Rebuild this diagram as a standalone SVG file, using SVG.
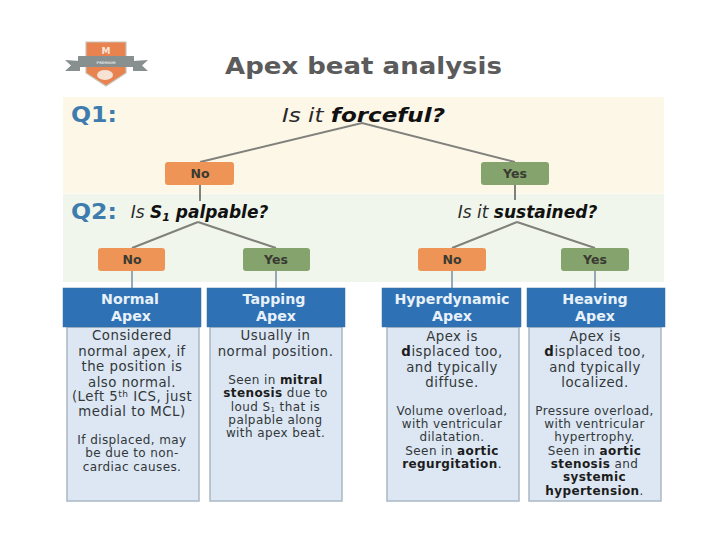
<svg xmlns="http://www.w3.org/2000/svg" width="720" height="540" viewBox="0 0 720 540">
<style>
text{font-family:"DejaVu Sans","Liberation Sans",sans-serif;text-anchor:middle}
.ans{font-size:12.5px;font-weight:700;fill:#3a3a32}
.no{fill:#ee9457}.yes{fill:#85a36d}
.hd{fill:#2e72b5;stroke:#3c6f9f;stroke-width:.5}
.ht{font-size:14.200px;font-weight:700;fill:#e8f1f8}
.bd{fill:#dce7f3;stroke:#a9b8c4;stroke-width:1.5}
.bt{font-size:13.300px;letter-spacing:.5px;fill:#33373a}
.bs{font-size:12px;letter-spacing:.4px;fill:#33373a}
.b{font-weight:700;fill:#1c1c1c}
.q{font-size:22px;font-weight:700;fill:#3f7cae;text-anchor:start}
.ask{font-size:20px;font-style:italic;fill:#2a2a2a}
.ask2{font-size:17px;font-style:italic;fill:#2a2a2a}
.strong{font-weight:700;fill:#111}
.ln{fill:none;stroke:#80807c;stroke-width:2}
.ln2{fill:none;stroke:#7f95a8;stroke-width:1.6}
</style>
<rect width="720" height="540" fill="#fff"/>
<rect x="63" y="97" width="601" height="96.500" fill="#fdf7e8"/>
<rect x="63" y="194" width="601" height="88" fill="#f0f6ec"/>
<g id="logo">
<path d="M65 60L80 61V71H65L71 65.500Z M148 60L133 61V71H148L142 65.500Z" fill="#87908f"/>
<path d="M86 42H126V73L106 86L86 73Z" fill="#e8824f" stroke="#c9c2ba" stroke-width="1.200"/>
<rect x="78" y="56" width="56" height="11" fill="#87908f"/>
<text x="106" y="54" style="font-size:9px;font-weight:700;fill:#f7e6da">M</text>
<text x="106" y="64" style="font-size:3.500px;font-weight:700;fill:#dfe3e3">PREMIUM</text>
<ellipse cx="105" cy="75" rx="8" ry="5" fill="#f6e3d6"/>
</g>
<text id="title" x="363.500" y="74" textLength="277" lengthAdjust="spacingAndGlyphs" style="font-size:23px;font-weight:700;fill:#5b5b5b">Apex beat analysis</text>
<g id="q1-label"><text class="q" x="71" y="122" textLength="46" lengthAdjust="spacingAndGlyphs">Q1:</text></g>
<g id="q2-label"><text class="q" x="71" y="219" textLength="46" lengthAdjust="spacingAndGlyphs">Q2:</text></g>
<g id="connectors">
<path class="ln" d="M200 162L362 123L515 162M200 185V201M198 222L132 248M198 222L276 248M515 185V200M517 222L452 248M517 222L595 248"/>
<path class="ln2" d="M132 270V288M276 270V288M452 271V288M595 271V288"/>
</g>
<g id="q-forceful"><text class="ask" x="363.500" y="122" textLength="163" lengthAdjust="spacingAndGlyphs">Is it <tspan class="strong">forceful?</tspan></text></g>
<g id="q-s1"><text class="ask2" x="199.500" y="218">Is <tspan class="strong">S<tspan dy="3" font-size="11">1</tspan><tspan dy="-3"> palpable?</tspan></tspan></text></g>
<g id="q-sustained"><text class="ask2" x="527.500" y="218">Is it <tspan class="strong">sustained?</tspan></text></g>
<g id="n-no1"><rect class="no" x="165" y="162" width="69" height="23" rx="3"/><text class="ans" x="200" y="178">No</text></g>
<g id="n-yes1"><rect class="yes" x="481" y="162" width="68" height="23" rx="3"/><text class="ans" x="515" y="178">Yes</text></g>
<g id="n-no2"><rect class="no" x="98" y="248" width="67" height="23" rx="3"/><text class="ans" x="132" y="264">No</text></g>
<g id="n-yes2"><rect class="yes" x="243" y="248" width="67" height="23" rx="3"/><text class="ans" x="276" y="264">Yes</text></g>
<g id="n-no3"><rect class="no" x="418" y="248" width="68" height="23" rx="3"/><text class="ans" x="452" y="264">No</text></g>
<g id="n-yes3"><rect class="yes" x="561" y="248" width="68" height="23" rx="3"/><text class="ans" x="595" y="264">Yes</text></g>
<g id="normal">
<rect class="bd" x="67" y="327" width="132" height="174"/>
<rect class="hd" x="63" y="288" width="138" height="39"/>
<text class="ht" x="130" y="304">Normal</text><text class="ht" x="131" y="321">Apex</text>
<text class="bt" x="132" y="340">Considered</text>
<text class="bt" x="132" y="356">normal apex, if</text>
<text class="bt" x="132" y="371">the position is</text>
<text class="bt" x="132" y="387">also normal.</text>
<text class="bt" x="132" y="401">(Left 5<tspan dy="-4" font-size="9">th</tspan><tspan dy="4"> ICS, just</tspan></text>
<text class="bt" x="132" y="416">medial to MCL)</text>
<text class="bs" x="132" y="444">If displaced, may</text>
<text class="bs" x="132" y="457">be due to non-</text>
<text class="bs" x="132" y="471">cardiac causes.</text>
</g>
<g id="tapping">
<rect class="bd" x="210" y="327" width="132" height="174"/>
<rect class="hd" x="207" y="288" width="138" height="39"/>
<text class="ht" x="274" y="304">Tapping</text><text class="ht" x="276" y="321">Apex</text>
<text class="bt" x="275.500" y="340">Usually in</text>
<text class="bt" x="275.500" y="356">normal position.</text>
<text class="bs" x="275.500" y="384">Seen in <tspan class="b">mitral</tspan></text>
<text class="bs" x="275.500" y="397"><tspan class="b">stenosis</tspan> due to</text>
<text class="bs" x="275.500" y="410.500">loud S<tspan dy="1" font-size="7">1</tspan><tspan dy="-1"> that is</tspan></text>
<text class="bs" x="275.500" y="424">palpable along</text>
<text class="bs" x="275.500" y="437">with apex beat.</text>
</g>
<g id="hyperdynamic">
<rect class="bd" x="387" y="327" width="132" height="174"/>
<rect class="hd" x="382" y="288" width="139" height="39"/>
<text class="ht" x="452" y="304">Hyperdynamic</text><text class="ht" x="452" y="321">Apex</text>
<text class="bt" x="452" y="341">Apex is</text>
<text class="bt" x="452" y="356"><tspan class="b">d</tspan>isplaced too,</text>
<text class="bt" x="452" y="372">and typically</text>
<text class="bt" x="452" y="387">diffuse.</text>
<text class="bs" x="452" y="415">Volume overload,</text>
<text class="bs" x="452" y="428">with ventricular</text>
<text class="bs" x="452" y="441">dilatation.</text>
<text class="bs" x="452" y="455">Seen in <tspan class="b">aortic</tspan></text>
<text class="bs" x="452" y="468"><tspan class="b">regurgitation</tspan>.</text>
</g>
<g id="heaving">
<rect class="bd" x="529" y="327" width="132" height="174"/>
<rect class="hd" x="527" y="288" width="138" height="39"/>
<text class="ht" x="595" y="304">Heaving</text><text class="ht" x="595" y="321">Apex</text>
<text class="bt" x="595" y="341">Apex is</text>
<text class="bt" x="595" y="356"><tspan class="b">d</tspan>isplaced too,</text>
<text class="bt" x="595" y="372">and typically</text>
<text class="bt" x="595" y="387">localized.</text>
<text class="bs" x="594.500" y="415">Pressure overload,</text>
<text class="bs" x="594.500" y="428">with ventricular</text>
<text class="bs" x="594.500" y="441">hypertrophy.</text>
<text class="bs" x="594.500" y="455">Seen in <tspan class="b">aortic</tspan></text>
<text class="bs" x="594.500" y="468"><tspan class="b">stenosis</tspan> and</text>
<text class="bs" x="594.500" y="481"><tspan class="b">systemic</tspan></text>
<text class="bs" x="594.500" y="495"><tspan class="b">hypertension</tspan>.</text>
</g>
</svg>
